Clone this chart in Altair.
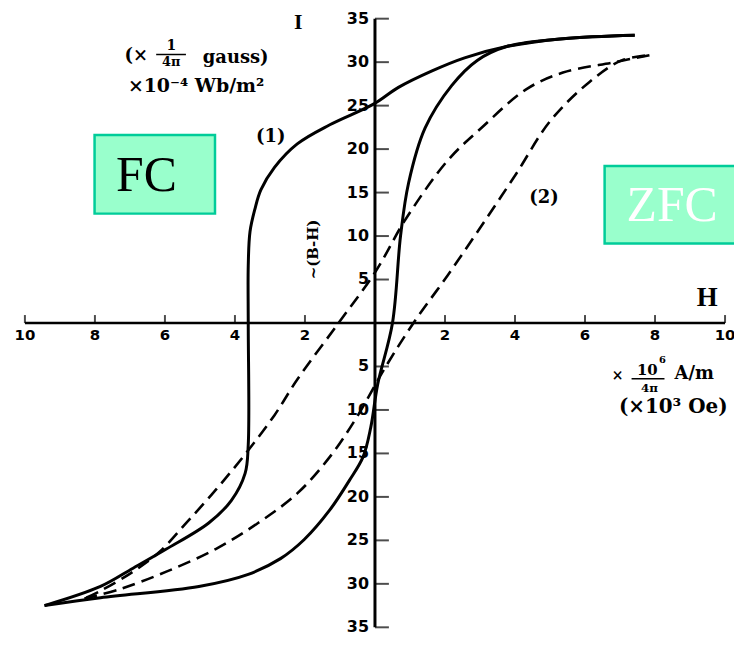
import altair as alt
import pandas as pd

# ---- data (H in 10^3 Oe, I in 10^-4 Wb/m^2 units) ----
# solid loop (1): descending branch (from upper tip to lower tip)
solid_down_h = [7.42, 5.37, 3.76, 2.56, 1.63, 0.67, -0.03, -1.29, -2.22, -2.87, -3.26, -3.43,
                -3.57, -3.62, -3.62, -3.62, -3.71, -4.10, -4.75, -5.96, -6.91, -7.84, -9.44]
solid_down_i = [33.1, 32.7, 31.8, 30.5, 29.0, 27.1, 25.2, 22.8, 20.6, 17.9, 15.3, 13.1,
                10.5, 6.6, -0.2, -14.0, -17.3, -20.4, -23.0, -26.0, -28.2, -30.3, -32.5]
# solid loop (1): ascending branch (from lower tip to upper tip)
solid_up_h = [-9.44, -7.84, -5.03, -3.62, -2.70, -2.02, -1.29, -0.73, -0.34, -0.12, 0.08,
              0.50, 0.73, 0.96, 1.43, 2.19, 2.92, 3.76, 5.37, 7.42]
solid_up_i = [-32.5, -31.6, -30.3, -28.9, -27.1, -24.9, -21.5, -18.1, -15.4, -12.0, -7.0,
              0.0, 10.0, 16.1, 22.4, 27.3, 30.2, 31.8, 32.7, 33.1]
# dashed loop (2): descending branch
dash_down_h = [7.84, 6.85, 5.37, 4.33, 3.03, 2.08, 0.87, 0.03, -1.04, -2.22, -2.87, -3.71,
               -4.55, -5.39, -6.15, -6.91, -7.84, -8.30]
dash_down_i = [30.8, 30.0, 28.8, 26.9, 22.4, 18.7, 11.9, 6.0, 0.0, -6.5, -10.6, -15.1,
               -19.2, -23.0, -26.3, -28.6, -30.8, -31.7]
# dashed loop (2): ascending branch
dash_up_h = [-8.30, -7.28, -5.96, -4.55, -3.34, -2.22, -1.29, -0.53, 0.31, 1.10, 2.08,
             3.03, 4.04, 5.00, 6.12, 7.05, 7.84]
dash_up_i = [-31.7, -30.6, -28.6, -26.0, -23.0, -19.6, -15.4, -10.9, -5.0, 0.0, 5.5,
             11.1, 17.2, 23.2, 27.7, 30.2, 30.8]

x_ticks = [-10, -8, -6, -4, -2, 2, 4, 6, 8, 10]
y_ticks = [-35, -30, -25, -20, -15, -10, -5, 5, 10, 15, 20, 25, 30, 35]


def branch(hs, vals, name):
    return pd.DataFrame({"H": hs, "I": vals, "branch": name, "k": list(range(len(hs)))})


solid = pd.concat([branch(solid_down_h, solid_down_i, "down"),
                   branch(solid_up_h, solid_up_i, "up")])
dashed = pd.concat([branch(dash_down_h, dash_down_i, "down"),
                    branch(dash_up_h, dash_up_i, "up")])

xs = alt.Scale(domain=[-10.483, 10.256], nice=False, zero=False)
ys = alt.Scale(domain=[-36.03, 36.03], nice=False, zero=False)


def X(f):
    return alt.X(f, type="quantitative", scale=xs, axis=None)


def Y(f):
    return alt.Y(f, type="quantitative", scale=ys, axis=None)


SERIF = "Liberation Serif"
DSERIF = "DejaVu Serif"
SANS = "DejaVu Sans"


def label(x, y, text, **kw):
    df = pd.DataFrame({"x": [x], "y": [y], "t": [text]})
    return alt.Chart(df).mark_text(**kw).encode(x=X("x"), y=Y("y"), text="t:N")


def rule_h(x1, x2, y, width):
    df = pd.DataFrame({"x1": [x1], "x2": [x2], "y": [y]})
    return alt.Chart(df).mark_rule(color="black", strokeWidth=width).encode(
        x=X("x1"), x2="x2:Q", y=Y("y"))


def box(x1, x2, y1, y2):
    df = pd.DataFrame({"x1": [x1], "x2": [x2], "y1": [y1], "y2": [y2]})
    return alt.Chart(df).mark_rect(fill="#99ffcc", stroke="#00cc99", strokeWidth=2.5,
                                   clip=True).encode(
        x=X("x1"), x2="x2:Q", y=Y("y1"), y2="y2:Q")


# boxes
fc_box = box(-8.01, -4.57, 21.62, 12.58)
zfc_box = box(6.56, 10.6, 18.07, 9.15)
fc_txt = label(-6.53, 15.21, "FC", font=SERIF, fontSize=50, color="black",
               baseline="alphabetic")
zfc_txt = label(8.49, 11.78, "ZFC", font=SERIF, fontSize=50, color="white",
                baseline="alphabetic")

# axes
x_axis = rule_h(-10, 10, 0, 2.5)
y_axis_df = pd.DataFrame({"x": [0], "y1": [-35], "y2": [35]})
y_axis = alt.Chart(y_axis_df).mark_rule(color="black", strokeWidth=3).encode(
    x=X("x"), y=Y("y1"), y2="y2:Q")

xt_df = pd.DataFrame({"v": x_ticks, "z": [0] * len(x_ticks),
                      "lab": [str(abs(v)) for v in x_ticks]})
yt_df = pd.DataFrame({"v": y_ticks, "z": [0] * len(y_ticks),
                      "lab": [str(abs(v)) for v in y_ticks]})

x_tick_marks = alt.Chart(xt_df).mark_tick(orient="vertical", size=8, thickness=2,
                                          yOffset=-4, color="black").encode(x=X("v"), y=Y("z"))
x_tick_labels = alt.Chart(xt_df).mark_text(font=SANS, fontWeight="bold", fontSize=15,
                                           dy=12, color="black").encode(
    x=X("v"), y=Y("z"), text="lab:N")
y_tick_marks = alt.Chart(yt_df).mark_tick(orient="horizontal", size=14, thickness=2,
                                          xOffset=7, color="black").encode(x=X("z"), y=Y("v"))
y_tick_labels = alt.Chart(yt_df).mark_text(font=SANS, fontWeight="bold", fontSize=16,
                                           align="right", dx=-6, color="black").encode(
    x=X("z"), y=Y("v"), text="lab:N")

# curves
solid_line = alt.Chart(solid).mark_line(color="black", strokeWidth=3,
                                        interpolate="catmull-rom").encode(
    x=X("H"), y=Y("I"), detail="branch:N", order="k:Q")
dashed_line = alt.Chart(dashed).mark_line(color="black", strokeWidth=2.6, strokeDash=[13, 7],
                                          interpolate="catmull-rom").encode(
    x=X("H"), y=Y("I"), detail="branch:N", order="k:Q")

# annotations
bs = dict(font=DSERIF, fontWeight="bold", color="black")
tb = dict(font=SERIF, fontWeight="bold", color="black")
ann = [
    label(-2.19, 33.8, "I", fontSize=22, baseline="alphabetic", **tb),
    label(9.49, 1.94, "H", fontSize=27, baseline="alphabetic", **tb),
    label(-6.82, 30.65, "(×", fontSize=18, **bs),
    label(-5.82, 31.8, "1", fontSize=14, **bs),
    rule_h(-6.25, -5.40, 30.88, 1.5),
    label(-5.82, 29.97, "4π", fontSize=13, **bs),
    label(-3.98, 30.42, "gauss)", fontSize=18, **bs),
    label(-5.11, 27.22, "×10⁻⁴ Wb/m²", fontSize=19, **bs),
    label(-2.98, 21.39, "(1)", fontSize=18, **bs),
    label(4.83, 14.41, "(2)", fontSize=18, **bs),
    label(-1.76, 8.46, "~(B-H)", fontSize=15, angle=270, **bs),
    label(6.93, -6.06, "×", fontSize=14, **bs),
    label(7.78, -5.38, "10", fontSize=15, **bs),
    label(8.21, -4.23, "6", fontSize=10, **bs),
    rule_h(7.33, 8.27, -6.41, 1.5),
    label(7.84, -7.43, "4π", fontSize=12, **bs),
    label(9.12, -5.83, "A/m", fontSize=18, **bs),
    label(8.52, -9.72, "(×10³ Oe)", fontSize=20, **bs),
]

chart = alt.layer(
    fc_box, zfc_box, fc_txt, zfc_txt,
    x_axis, y_axis, x_tick_marks, y_tick_marks, x_tick_labels, y_tick_labels,
    dashed_line, solid_line, *ann
).properties(
    width=730, height=630, padding=0, autosize=alt.AutoSizeParams(type="none"),
    background="white"
).configure_view(strokeWidth=0)

chart.save("out.html", embed_options={"renderer": "svg", "actions": False})
